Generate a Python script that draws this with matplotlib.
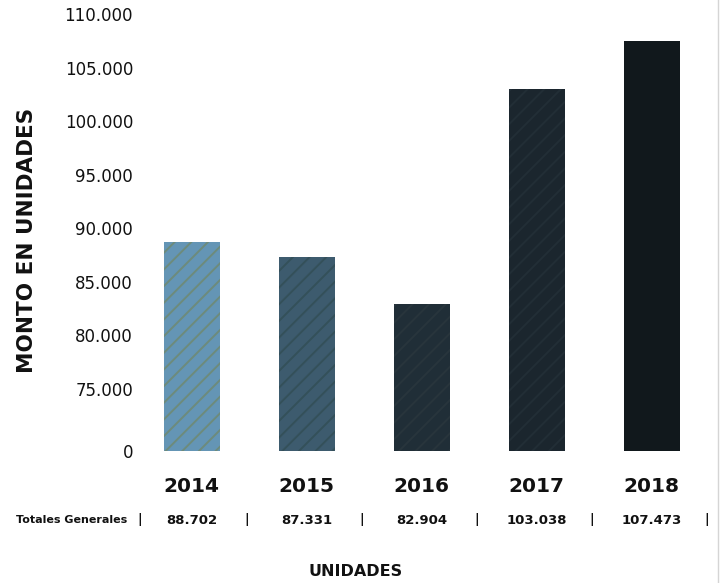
import matplotlib
matplotlib.use('Agg')
import matplotlib.pyplot as plt
from matplotlib.transforms import blended_transform_factory
from matplotlib.lines import Line2D

# datos de unidades por año
years = ['2014', '2015', '2016', '2017', '2018']
totals = [88702, 87331, 82904, 103038, 107473]
total_labels = ['88.702', '87.331', '82.904', '103.038', '107.473']
tick_values = [75000, 80000, 85000, 90000, 95000, 100000, 105000, 110000]
tick_labels = ['75.000', '80.000', '85.000', '90.000', '95.000', '100.000', '105.000', '110.000']

bar_colors = ['#6495b5', '#3d5b6e', '#202e37', '#1b262e', '#11181c']
hatch_colors = ['#6d8b7b', '#34505a', '#28353c', '#222e36', '#151c20']

plt.rcParams['font.family'] = ['DejaVu Sans']
plt.rcParams['hatch.linewidth'] = 1.4

fig = plt.figure(figsize=(7.2, 5.83), dpi=100)
W, H = 720.0, 583.0
ax = fig.add_axes([140 / W, 1 - 451 / H, 575 / W, (451 - 14) / H])

y_bottom = 69170
x = list(range(len(years)))
for i in x:
    ax.bar(i, totals[i] - y_bottom, bottom=y_bottom, width=0.49,
           color=bar_colors[i], edgecolor=hatch_colors[i], linewidth=0,
           hatch='//' if i < 4 else None)

ax.set_xlim(-0.45, 4.55)
ax.set_ylim(y_bottom, 110000)
ax.set_yticks([y_bottom] + tick_values)
ax.set_yticklabels(['0'] + tick_labels, fontsize=12, color='#111111')
ax.tick_params(axis='y', length=0, pad=5)
ax.set_xticks([])
for s in ax.spines.values():
    s.set_visible(False)

trans = blended_transform_factory(ax.transData, fig.transFigure)
for i, yr in enumerate(years):
    ax.text(i, 1 - 486 / H, yr, transform=trans, ha='center', va='center',
            fontsize=14.5, fontweight='bold', color='#111111')

# fila de totales
row_y = 1 - 520 / H
fig.text(127 / W, row_y, 'Totales Generales', ha='right', va='center',
         fontsize=8, fontweight='bold', color='#111111')
ax.text(-0.45, row_y, '|', transform=trans, ha='center', va='center',
        fontsize=9, fontweight='bold', color='#111111')
for i, lab in enumerate(total_labels):
    ax.text(i, row_y, lab, transform=trans, ha='center', va='center',
            fontsize=9.5, fontweight='bold', color='#111111')
    ax.text(i + 0.48, row_y, '|', transform=trans, ha='center', va='center',
            fontsize=9, fontweight='bold', color='#111111')

fig.text(27 / W, 1 - 240 / H, 'MONTO EN UNIDADES', rotation=90, ha='center',
         va='center', fontsize=15.5, fontweight='bold', color='#111111')
fig.text(356 / W, 1 - 572 / H, 'UNIDADES', ha='center', va='center',
         fontsize=11.5, fontweight='bold', color='#111111')

fig.add_artist(Line2D([718 / W, 718 / W], [0, 1], color='#d5d5d5', linewidth=1))

fig.savefig('out.png', dpi=100)
